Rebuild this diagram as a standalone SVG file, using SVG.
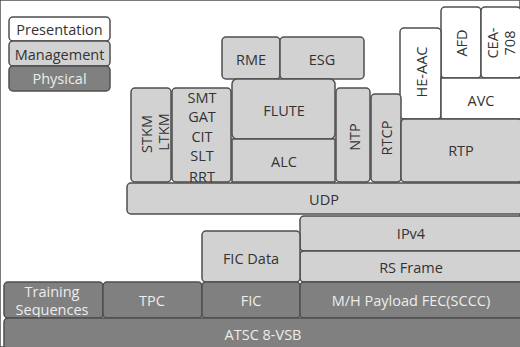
<svg xmlns="http://www.w3.org/2000/svg" width="520" height="347" viewBox="0 0 520 347">
<style>
rect{stroke:#4f4f4f;stroke-width:1.5}
.p{fill:#ffffff}
.m{fill:#d2d2d2}
.y{fill:#808080}
text{font-family:"Open Sans","Noto Sans","DejaVu Sans",sans-serif;font-size:14.5px;fill:#333;text-anchor:middle;dominant-baseline:central}
.lt{fill:#ececec}
</style>
<rect width="520" height="347" fill="#fff" stroke="none"/>
<g id="legend">
<g id="leg-presentation"><rect class="p" x="9" y="17" width="101" height="24" rx="4"/><text x="59.5" y="29.5" font-size="13">Presentation</text></g>
<g id="leg-management"><rect class="m" x="9" y="41" width="101" height="25" rx="4"/><text x="59.5" y="54" font-size="13">Management</text></g>
<g id="leg-physical"><rect class="y" x="9" y="66" width="101" height="25" rx="4"/><text class="lt" x="59.5" y="78.5" font-size="12.5">Physical</text></g>
</g>
<g id="connectors"></g>
<g id="afd"><rect class="p" x="441" y="7" width="40" height="71" rx="4"/><text transform="rotate(-90 461 43)" x="461" y="43">AFD</text></g>
<g id="cea708"><rect class="p" x="481" y="7" width="40" height="71" rx="4"/><text transform="rotate(-90 492 43)" x="492" y="43">CEA-</text><text transform="rotate(-90 509 43)" x="509" y="43">708</text></g>
<g id="heaac"><rect class="p" x="400" y="28" width="41" height="91" rx="4"/><text transform="rotate(-90 421 72)" x="421" y="72">HE-AAC</text></g>
<g id="avc"><rect class="p" x="441" y="78" width="80" height="41" rx="0"/><text x="481" y="100">AVC</text></g>
<g id="rme"><rect class="m" x="222" y="37" width="58" height="42" rx="4"/><text x="251" y="59">RME</text></g>
<g id="esg"><rect class="m" x="280" y="37" width="84" height="42" rx="4"/><text x="322" y="59">ESG</text></g>
<g id="stkm"><rect class="m" x="131" y="88" width="40" height="94" rx="4"/><text transform="rotate(-90 146 134)" x="146" y="134">STKM</text><text transform="rotate(-90 163 132)" x="163" y="132">LTKM</text></g>
<g id="smt"><rect class="m" x="172" y="88" width="59" height="94" rx="4"/>
<text x="202" y="97" font-size="15">SMT</text><text x="202" y="116.5" font-size="15">GAT</text><text x="202" y="136" font-size="15">CIT</text><text x="202" y="155.5" font-size="15">SLT</text><text x="202" y="176" font-size="15">RRT</text></g>
<g id="flute"><rect class="m" x="232" y="79" width="103" height="60" rx="5"/><text x="284" y="110">FLUTE</text></g>
<g id="alc"><rect class="m" x="232" y="139" width="103" height="43" rx="0"/><text x="284" y="161">ALC</text></g>
<g id="ntp"><rect class="m" x="336" y="88" width="34" height="94" rx="4"/><text transform="rotate(-90 354 137)" x="354" y="137">NTP</text></g>
<g id="rtcp"><rect class="m" x="371" y="94" width="30" height="88" rx="4"/><text transform="rotate(-90 386 138)" x="386" y="138">RTCP</text></g>
<g id="rtp"><rect class="m" x="401" y="119" width="121" height="63" rx="4"/><text x="461" y="150">RTP</text></g>
<g id="udp"><rect class="m" x="127" y="183" width="396" height="31" rx="4"/><text x="324" y="199">UDP</text></g>
<g id="ipv4"><rect class="m" x="300" y="216" width="223" height="35" rx="4"/><text x="411" y="233">IPv4</text></g>
<g id="rsframe"><rect class="m" x="300" y="251" width="223" height="31" rx="4"/><text x="411" y="267">RS Frame</text></g>
<g id="ficdata"><rect class="m" x="202" y="231" width="98" height="51" rx="4"/><text x="251" y="258">FIC Data</text></g>
<g id="training"><rect class="y" x="4" y="282" width="99" height="36" rx="4"/><text class="lt" x="52" y="291" font-size="12.5">Training</text><text class="lt" x="52" y="309" font-size="12.5">Sequences</text></g>
<g id="tpc"><rect class="y" x="103" y="282" width="99" height="36" rx="4"/><text class="lt" x="152" y="300">TPC</text></g>
<g id="fic"><rect class="y" x="202" y="282" width="98" height="36" rx="4"/><text class="lt" x="251" y="300">FIC</text></g>
<g id="mh"><rect class="y" x="300" y="282" width="223" height="36" rx="4"/><text class="lt" x="411" y="300">M/H Payload FEC(SCCC)</text></g>
<g id="atsc"><rect class="y" x="4" y="318" width="519" height="34" rx="4"/><text class="lt" x="263" y="334">ATSC 8-VSB</text></g>
</svg>
